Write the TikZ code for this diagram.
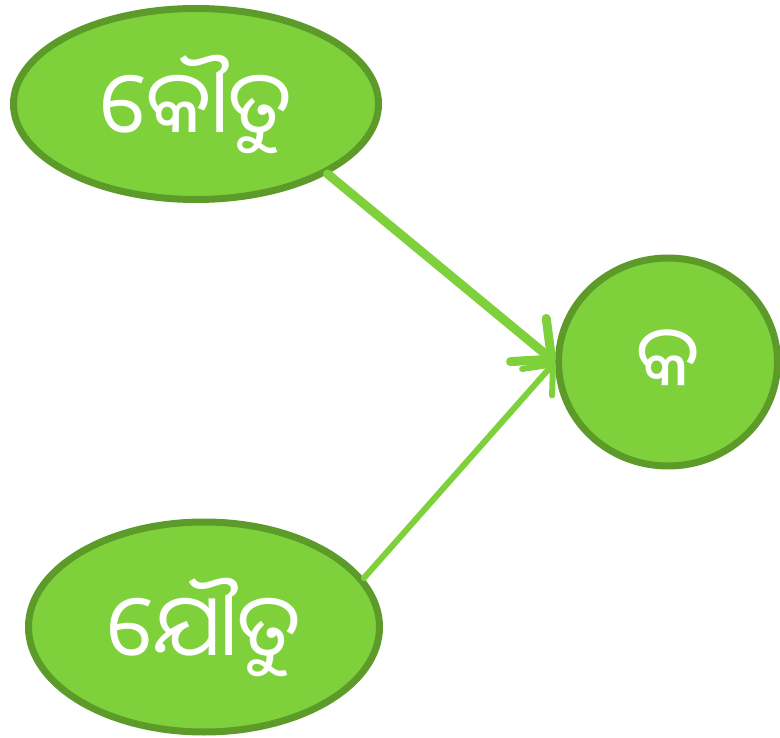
\documentclass[tikz,border=0pt]{standalone}
\usepackage{fontspec}
\usepackage{tikz}
\usetikzlibrary{shapes.geometric, arrows.meta, positioning}
\newfontfamily\oriya[Script=Oriya]{Noto Sans Oriya UI}
\definecolor{leaffill}{RGB}{126,209,59}
\definecolor{leafline}{RGB}{92,155,42}

\begin{document}
\begin{tikzpicture}[
    x=1pt, y=-1pt,
    part/.style={ellipse, draw=leafline, fill=leaffill, line width=7pt, inner sep=0pt, text=white, font=\oriya\fontsize{86}{96}\selectfont},
    joinarrow/.style={draw=leaffill, line cap=round}
]
\useasboundingbox (0,0) rectangle (780,738);

\node[part, minimum width=365pt, minimum height=191pt] (kautu) at (196,104) {କୌତୁ};
\node[part, minimum width=351pt, minimum height=210pt] (jautu) at (204,627) {ଯୌତୁ};
\node[part, minimum width=219pt, minimum height=208pt, font=\oriya\fontsize{84}{90}\selectfont] (ka) at (668,362) {କ};

\draw[joinarrow, line width=9pt, -{Straight Barb[round, length=30pt, width=56pt]}] (kautu.-28) -- (ka.west);
\draw[joinarrow, line width=6pt, -{Straight Barb[round, length=24pt, width=40pt]}] (jautu.17) -- (ka.west);

\end{tikzpicture}
\end{document}
